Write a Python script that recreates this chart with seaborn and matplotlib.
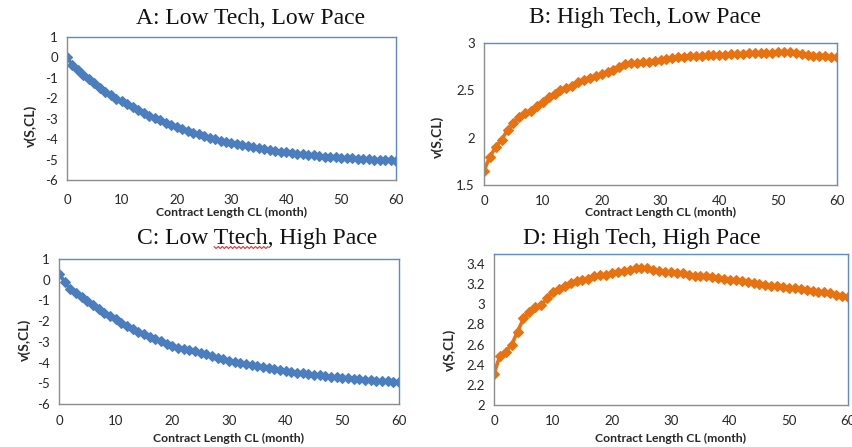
import numpy as np
import pandas as pd
import matplotlib
matplotlib.use("Agg")
import matplotlib.pyplot as plt
import seaborn as sns

# ---------------- data ----------------
contract_length = list(range(0, 61))

v_low_tech_low_pace = [
    0.00, -0.38, -0.62, -0.85, -1.05, -1.27, -1.50, -1.68, -1.86, -2.02,
    -2.15, -2.30, -2.45, -2.58, -2.72, -2.85, -2.97, -3.08, -3.20, -3.32,
    -3.43, -3.52, -3.62, -3.70, -3.77, -3.83, -3.92, -4.00, -4.07, -4.14,
    -4.20, -4.25, -4.29, -4.35, -4.40, -4.45, -4.50, -4.54, -4.58, -4.62,
    -4.65, -4.68, -4.71, -4.74, -4.77, -4.79, -4.82, -4.85, -4.87, -4.88,
    -4.90, -4.92, -4.94, -4.95, -4.97, -4.98, -5.00, -5.01, -5.03, -5.04,
    -5.05]

v_high_tech_low_pace = [
    1.65, 1.80, 1.90, 1.98, 2.08, 2.15, 2.22, 2.26, 2.28, 2.33,
    2.38, 2.43, 2.46, 2.50, 2.52, 2.55, 2.59, 2.61, 2.63, 2.65,
    2.67, 2.69, 2.72, 2.75, 2.78, 2.79, 2.79, 2.80, 2.80, 2.81,
    2.82, 2.83, 2.84, 2.85, 2.85, 2.86, 2.86, 2.86, 2.87, 2.87,
    2.87, 2.87, 2.88, 2.88, 2.88, 2.89, 2.89, 2.89, 2.89, 2.89,
    2.90, 2.90, 2.90, 2.89, 2.88, 2.87, 2.86, 2.86, 2.86, 2.85,
    2.85]

v_low_tech_high_pace = [
    0.30, -0.10, -0.45, -0.65, -0.82, -1.02, -1.22, -1.42, -1.60, -1.77,
    -1.92, -2.07, -2.22, -2.37, -2.50, -2.63, -2.75, -2.86, -2.97, -3.08,
    -3.18, -3.28, -3.34, -3.40, -3.46, -3.53, -3.61, -3.70, -3.78, -3.85,
    -3.91, -3.96, -4.01, -4.07, -4.12, -4.17, -4.22, -4.27, -4.31, -4.36,
    -4.40, -4.44, -4.48, -4.51, -4.55, -4.58, -4.62, -4.65, -4.68, -4.70,
    -4.73, -4.75, -4.78, -4.80, -4.83, -4.85, -4.87, -4.89, -4.91, -4.93,
    -4.95]

v_high_tech_high_pace = [
    2.31, 2.49, 2.53, 2.60, 2.73, 2.86, 2.92, 2.97, 2.99, 3.06,
    3.12, 3.15, 3.18, 3.21, 3.23, 3.24, 3.25, 3.28, 3.29, 3.29,
    3.31, 3.32, 3.33, 3.34, 3.36, 3.36, 3.36, 3.34, 3.33, 3.32,
    3.32, 3.31, 3.31, 3.29, 3.28, 3.28, 3.28, 3.27, 3.26, 3.25,
    3.24, 3.24, 3.23, 3.22, 3.21, 3.20, 3.19, 3.18, 3.18, 3.17,
    3.16, 3.16, 3.15, 3.14, 3.13, 3.12, 3.12, 3.11, 3.09, 3.08,
    3.07]

titles = ["A: Low Tech, Low Pace", "B: High Tech, Low Pace",
          "C: Low Ttech, High Pace", "D: High Tech, High Pace"]
x_ticks = [0, 10, 20, 30, 40, 50, 60]
y_ticks_low = [1, 0, -1, -2, -3, -4, -5, -6]
y_ticks_b = [1.5, 2, 2.5, 3]
y_ticks_d = [2, 2.2, 2.4, 2.6, 2.8, 3, 3.2, 3.4]
x_label = "Contract Length CL (month)"
y_label = "v(S,CL)"

# ---------------- style ----------------
sns.set_style("white")
plt.rcParams['font.family'] = ['Lato', 'DejaVu Sans']

BLUE = "#4A7EBE"
ORANGE = "#E8720F"
AXIS_GRAY = "#8C8C8C"
BORDER_BLUE = "#5B8ACB"
TEXT = "#262626"

W, H = 853, 447
fig = plt.figure(figsize=(W / 100, H / 100), dpi=100)


def box(l, t, r, b):
    return (l, t, r, b)


# pixel boxes, values, colour, y-limits, y-ticks,
# x-tick pad (pt), xlabel centre y (px), ylabel centre (x, y) px
panels = [
    (box(67, 37, 396, 180), v_low_tech_low_pace, BLUE, (-6, 1), y_ticks_low,
     7.2, 212, (31, 126)),
    (box(484, 43, 837, 185), v_high_tech_low_pace, ORANGE, (1.5, 3), y_ticks_b,
     4.5, 212, (438, 137)),
    (box(59, 259, 399, 404), v_low_tech_high_pace, BLUE, (-6, 1), y_ticks_low,
     5.0, 438, (25, 340)),
    (box(494, 254, 848, 405), v_high_tech_high_pace, ORANGE, (2, 3.5), y_ticks_d,
     4.5, 438, (450, 350)),
]

for (l, t, r, b), vals, col, ylim, yt, xpad, xl_y, (yl_x, yl_y) in panels:
    ax = fig.add_axes([l / W, (H - b) / H, (r - l) / W, (b - t) / H])
    df = pd.DataFrame({"CL": contract_length, "v": vals})
    sns.lineplot(data=df, x="CL", y="v", ax=ax, color=col, linewidth=2.6,
                 marker="D", markersize=4.8, markeredgewidth=0.8,
                 markeredgecolor=col, markerfacecolor=col)
    ax.set_xlim(0, 60)
    ax.set_ylim(*ylim)
    ax.set_xticks(x_ticks)
    ax.set_yticks(yt)
    ax.set_yticklabels([f"{v:g}" for v in yt])
    ax.tick_params(axis="both", direction="out", length=3, width=0.8,
                   color=AXIS_GRAY, labelsize=9.5, labelcolor=TEXT)
    ax.tick_params(axis="y", pad=3.5)
    ax.tick_params(axis="x", pad=xpad)
    for s in ["left", "bottom"]:
        ax.spines[s].set_color(AXIS_GRAY)
        ax.spines[s].set_linewidth(1.0)
    for s in ["top", "right"]:
        ax.spines[s].set_color(BORDER_BLUE)
        ax.spines[s].set_linewidth(1.0)
    ax.set_xlabel(x_label, fontsize=8.8, fontweight="bold", color=TEXT)
    ax.set_ylabel(y_label, fontsize=10, fontweight="bold", color=TEXT)
    ax.xaxis.set_label_coords(((l + r) / 2 - l) / (r - l), (b - xl_y) / (b - t))
    ax.yaxis.set_label_coords((yl_x - l) / (r - l), (b - yl_y) / (b - t))
    ax.xaxis.label.set_va("center")
    ax.yaxis.label.set_va("center")

# titles (figure-level)
TFS = 17
title_pos = [(251, 18), (645, 18), (257, 238), (642, 238)]
title_texts = []
for (tx, ty), t in zip(title_pos, titles):
    tt = fig.text(tx / W, 1 - ty / H, t, ha="center", va="center",
                  fontsize=TFS, family="Liberation Serif", color="#111111")
    title_texts.append(tt)

# red spell-check squiggle under "Ttech"
fig.canvas.draw()
renderer = fig.canvas.get_renderer()
tC = title_texts[2]
bb = tC.get_window_extent(renderer)
prefix = fig.text(0, 0, "C: Low ", fontsize=TFS, family="Liberation Serif")
word = fig.text(0, 0, "Ttech", fontsize=TFS, family="Liberation Serif")
pw = prefix.get_window_extent(renderer).width
ww = word.get_window_extent(renderer).width
prefix.remove()
word.remove()
x0 = bb.x0 + pw
x1 = x0 + ww
ybase = bb.y0 + 1
n = int((x1 - x0) / 2) + 1
sx = np.linspace(x0, x1, n)
sy = ybase + np.where(np.arange(n) % 2 == 0, 1.0, -1.0)
fig.add_artist(plt.Line2D(sx / W, sy / H, color="#E03030", linewidth=0.8,
                          transform=fig.transFigure))

fig.savefig("out.png", dpi=100)
